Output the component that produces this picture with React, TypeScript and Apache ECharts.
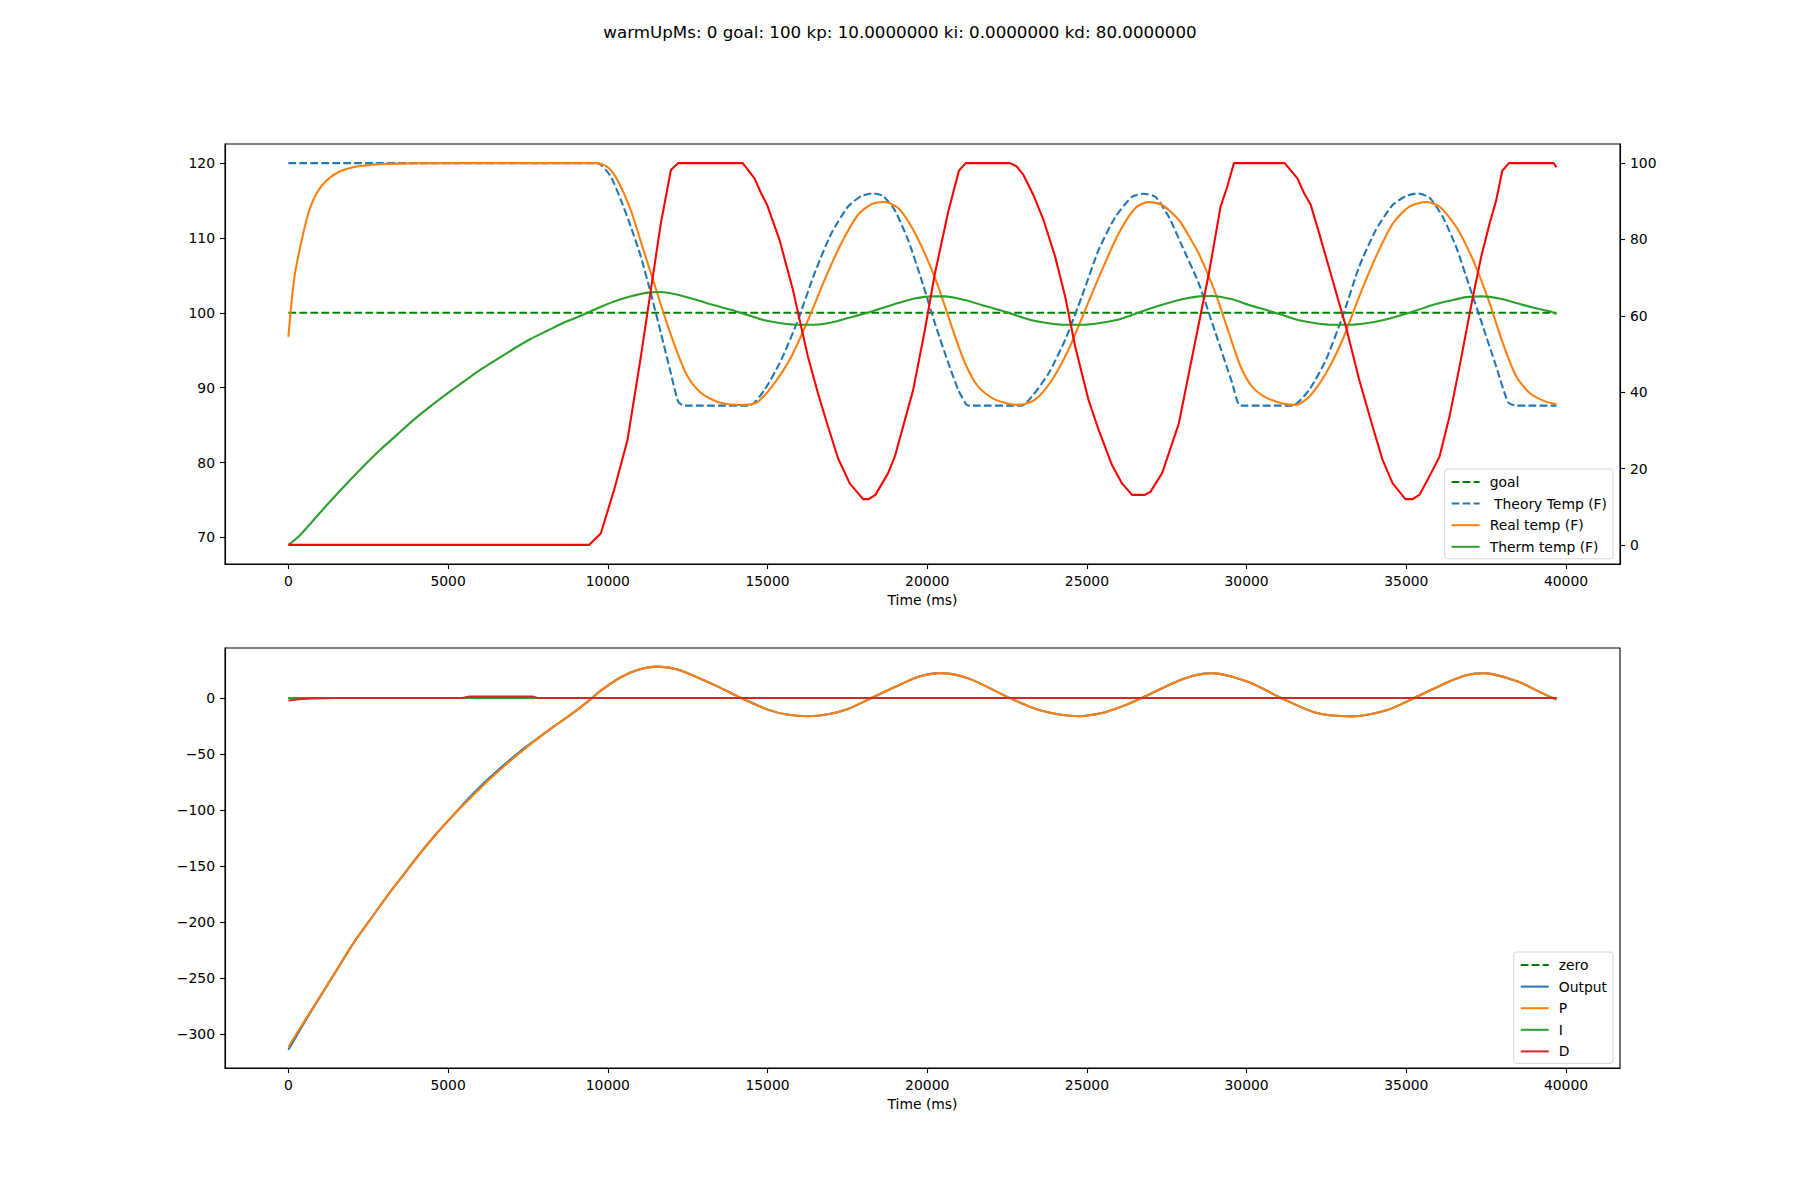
import { useEffect, useRef } from "react";
import * as echarts from "echarts";

const TITLE = "warmUpMs: 0 goal: 100 kp: 10.0000000 ki: 0.0000000 kd: 80.0000000";

const timeTicks = [0, 5000, 10000, 15000, 20000, 25000, 30000, 35000, 40000];
const tempTicks = [70, 80, 90, 100, 110, 120];
const heaterTicks = [0, 20, 40, 60, 80, 100];
const pidTicks = [-300, -250, -200, -150, -100, -50, 0];

// top chart (left axis, deg F)
const goal: [number, number][] = [[0, 100], [39700, 100]];

const theoryTemp: [number, number][] = [
  [0, 120], [9676, 120], [10093, 118.2], [10407, 115.1], [10721, 111.5], [11035, 107.5],
  [11348, 102.6], [11662, 97.3], [11976, 91.9], [12206, 88.1], [12395, 87.6], [14434, 87.6],
  [14905, 89.7], [15428, 93.7], [15951, 99.0], [16474, 105.3], [16998, 110.6], [17521, 114.2],
  [17939, 115.6], [18306, 115.95], [18620, 115.6], [18985, 113.7], [19404, 109.7], [19822, 104.4],
  [20241, 98.6], [20660, 93.3], [20974, 89.7], [21235, 87.7], [21400, 87.6], [22961, 87.6],
  [23275, 88.8], [23798, 91.9], [24320, 96.4], [24843, 102.2], [25367, 108.4], [25889, 112.8],
  [26413, 115.5], [26779, 115.9], [27144, 115.5], [27565, 112.8], [27982, 108.9], [28505, 103.9],
  [29027, 97.3], [29551, 90.6], [29813, 87.6], [31435, 87.6], [31958, 89.7], [32481, 93.7],
  [33004, 99.5], [33527, 106.2], [34049, 111.1], [34573, 114.4], [34990, 115.6], [35357, 115.95],
  [35724, 115.4], [36142, 112.8], [36560, 108.8], [36979, 103.5], [37397, 98.2], [37816, 92.8],
  [38182, 88.1], [38443, 87.6], [39700, 87.6],
];

const realTemp: [number, number][] = [
  [0, 96.8], [104, 101.7], [207, 105.3], [417, 109.7], [625, 113.3], [888, 116.0], [1202, 117.7],
  [1620, 118.9], [2247, 119.6], [3085, 119.9], [5000, 120], [9676, 120], [10040, 119.3],
  [10354, 117.3], [10721, 113.7], [11087, 108.8], [11452, 103.9], [11819, 99.0], [12186, 94.6],
  [12500, 91.5], [12918, 89.3], [13441, 88.1], [14120, 87.7], [14330, 87.7], [14696, 88.1],
  [15219, 90.6], [15742, 94.1], [16266, 99.0], [16787, 104.4], [17311, 109.3], [17835, 113.1],
  [18253, 114.5], [18671, 114.8], [19090, 114.0], [19508, 111.5], [19926, 107.9], [20346, 103.5],
  [20764, 98.2], [21182, 93.3], [21601, 90.1], [22124, 88.4], [22857, 87.7], [23378, 88.4],
  [23901, 91.0], [24425, 95.1], [24947, 100.4], [25471, 105.7], [25994, 110.6], [26517, 114.0],
  [26936, 114.8], [27355, 114.4], [27878, 112.4], [28296, 109.5], [28505, 107.9], [29027, 102.6],
  [29446, 97.3], [29813, 92.8], [30179, 90.1], [30597, 88.7], [31121, 87.9], [31539, 87.7],
  [31958, 88.8], [32481, 91.9], [33004, 96.4], [33527, 102.2], [34049, 107.5], [34573, 111.9],
  [35096, 114.2], [35619, 114.8], [36038, 114.2], [36560, 111.5], [37084, 107.1], [37607, 101.3],
  [38025, 95.9], [38443, 91.5], [38861, 89.3], [39384, 88.1], [39700, 87.8],
];

const thermTemp: [number, number][] = [
  [0, 69.0], [364, 70.3], [782, 72.3], [1306, 74.8], [1830, 77.2], [2351, 79.5], [2875, 81.7],
  [3399, 83.7], [3920, 85.7], [4444, 87.5], [4968, 89.2], [5489, 90.8], [6013, 92.4], [6537, 93.8],
  [7058, 95.2], [7583, 96.5], [8106, 97.6], [8628, 98.7], [9152, 99.6], [9676, 100.6],
  [10197, 101.5], [10721, 102.2], [11245, 102.7], [11662, 102.78], [12080, 102.5], [12708, 101.8],
  [13335, 101.0], [13859, 100.4], [14383, 99.7], [14905, 99.0], [15428, 98.6], [15951, 98.4],
  [16474, 98.4], [16998, 98.7], [17521, 99.3], [18043, 99.9], [18566, 100.6], [19090, 101.3],
  [19612, 101.9], [20136, 102.2], [20554, 102.2], [21182, 101.7], [21705, 101.05], [22229, 100.4],
  [22751, 99.7], [23275, 99.0], [23798, 98.6], [24320, 98.4], [24843, 98.4], [25367, 98.6],
  [25889, 99.0], [26413, 99.7], [26936, 100.5], [27459, 101.2], [27982, 101.8], [28505, 102.2],
  [28923, 102.25], [29551, 101.8], [30075, 101.05], [30597, 100.4], [31121, 99.7], [31644, 99.0],
  [32166, 98.6], [32690, 98.4], [33213, 98.4], [33736, 98.6], [34259, 99.0], [34783, 99.6],
  [35305, 100.3], [35828, 101.05], [36352, 101.6], [36874, 102.1], [37398, 102.2], [37921, 101.9],
  [38443, 101.3], [38966, 100.7], [39490, 100.2], [39700, 99.85],
];

// top chart (right axis, heater %)
const heater: [number, number][] = [
  [0, 0], [9413, 0], [9780, 3.0], [10197, 14.4], [10617, 27.5], [11035, 49.3], [11348, 66.8],
  [11662, 84.3], [11976, 98.2], [12206, 100], [14226, 100], [14592, 96.0], [14801, 92.1],
  [14989, 89.0], [15376, 79.9], [15795, 66.8], [16266, 49.3], [16580, 39.7], [16894, 31.0],
  [17208, 22.7], [17574, 16.1], [17993, 12.0], [18170, 12.0], [18379, 13.1], [18776, 18.8],
  [18985, 23.1], [19561, 40.6], [19927, 56.3], [20241, 71.1], [20660, 87.3], [20993, 98.0],
  [21203, 100], [22595, 100], [22803, 99.1], [23013, 96.9], [23327, 91.6], [23641, 85.1],
  [24006, 75.5], [24320, 65.0], [24634, 51.9], [25053, 37.9], [25367, 30.1], [25785, 20.9],
  [26099, 16.1], [26413, 13.1], [26811, 13.1], [26988, 13.9], [27355, 18.8], [27878, 31.8],
  [28296, 49.3], [28819, 71.1], [29185, 88.6], [29394, 93.8], [29604, 100], [31193, 100],
  [31592, 96.0], [31801, 92.1], [32010, 89.0], [32272, 81.6], [32690, 69.4], [33108, 57.2],
  [33527, 43.2], [33945, 31.0], [34259, 22.2], [34573, 16.1], [34971, 12.0], [35201, 12.0],
  [35410, 13.1], [35776, 18.8], [36038, 23.1], [36352, 33.6], [36666, 46.7], [37084, 65.0],
  [37346, 75.5], [37607, 84.2], [37816, 90.3], [38004, 98.0], [38214, 100], [39615, 100],
  [39700, 98.9],
];

// bottom chart (PID terms)
const zero: [number, number][] = [[0, 0], [39700, 0]];

const pTerm: [number, number][] = [
  [0, -311.5], [468, -290], [992, -266.4], [1516, -242.6], [2037, -218.8], [2561, -197.9],
  [3085, -177.1], [3606, -157.8], [4130, -138.4], [4654, -120.5], [5175, -104.2], [5699, -89.3],
  [6223, -74.5], [6745, -61.1], [7269, -48.5], [7793, -36.5], [8314, -25.4], [8838, -14.9],
  [9362, -3.5], [9779, 6.5], [10407, 18.5], [10930, 25], [11558, 28], [12186, 25.5], [12918, 17],
  [13500, 9.5], [14070, 1.4], [15011, -10.4], [15600, -14.8], [16266, -16.3], [16900, -14.5],
  [17521, -9.8], [18253, 0], [19195, 12.5], [19800, 19.5], [20397, 22.2], [21288, 17.5],
  [22543, 0.5], [23588, -11.5], [24740, -16.3], [25471, -13.5], [26099, -7.5], [26721, 0],
  [27643, 12.5], [28300, 19.5], [28893, 22.2], [30035, 14.5], [31121, -0.5], [32206, -13.5],
  [33293, -16.4], [34378, -11], [35248, 0], [36333, 14.5], [36900, 20.5], [37422, 22.2],
  [38508, 14.5], [39200, 5], [39700, -1.5],
];

const output: [number, number][] = [
  [0, -314], [468, -291.2], [992, -266.8], [1516, -242.7], [2037, -218.8], [2561, -197.9],
  [3085, -177.1], [3606, -157.8], [4130, -138.4], [4654, -120.5], [5175, -104.2], [5699, -88],
  [6223, -73.3], [6745, -59.9], [7269, -47.3], [7793, -36.3], [8314, -25.4], [8838, -14.9],
  [9362, -3.5], [9779, 6.5], [10407, 18.5], [10930, 25], [11558, 28], [12186, 25.5], [12918, 17],
  [13500, 9.5], [14070, 1.4], [15011, -10.4], [15600, -14.8], [16266, -16.3], [16900, -14.5],
  [17521, -9.8], [18253, 0], [19195, 12.5], [19800, 19.5], [20397, 22.2], [21288, 17.5],
  [22543, 0.5], [23588, -11.5], [24740, -16.3], [25471, -13.5], [26099, -7.5], [26721, 0],
  [27643, 12.5], [28300, 19.5], [28893, 22.2], [30035, 14.5], [31121, -0.5], [32206, -13.5],
  [33293, -16.4], [34378, -11], [35248, 0], [36333, 14.5], [36900, 20.5], [37422, 22.2],
  [38508, 14.5], [39200, 5], [39700, -1.5],
];

const iTerm: [number, number][] = [[0, 0], [39700, 0]];

const dTerm: [number, number][] = [
  [0, -2.3], [400, -1], [800, -0.4], [1500, 0], [5450, 0], [5650, 1.2], [7650, 1.2], [7800, 0],
  [39700, 0],
];

const FONT = "DejaVu Sans";
const LW = 2.08;
const DASH = [7.7, 3.3];

const plain = (v: number) => String(v).replace("-", "\u2212");

function line(name: string, data: [number, number][], color: string, xi: number, yi: number, dashed = false, smooth = 0) {
  return {
    type: "line",
    name,
    data,
    xAxisIndex: xi,
    yAxisIndex: yi,
    symbol: "none",
    showSymbol: false,
    smooth,
    lineStyle: { color, width: LW, type: dashed ? DASH : "solid" },
    itemStyle: { color },
    emphasis: { disabled: true },
  };
}

function timeAxis(gridIndex: number) {
  return {
    type: "value",
    gridIndex,
    min: -1985,
    max: 41690,
    name: "Time (ms)",
    nameLocation: "middle",
    nameGap: 29,
    nameTextStyle: { color: "#000", fontSize: 13.9, fontFamily: FONT },
    axisLine: { show: true, onZero: false, lineStyle: { color: "#000", width: 1.1 } },
    axisTick: { show: true, customValues: timeTicks, length: 5, lineStyle: { color: "#000", width: 1.1 } },
    axisLabel: { customValues: timeTicks, color: "#000", fontSize: 13.9, fontFamily: FONT, margin: 10, formatter: plain },
    splitLine: { show: false },
  };
}

function valueAxis(gridIndex: number, min: number, max: number, ticks: number[], position: string) {
  return {
    type: "value",
    gridIndex,
    min,
    max,
    position,
    axisLine: { show: true, onZero: false, lineStyle: { color: "#000", width: 1.1 } },
    axisTick: { show: true, customValues: ticks, length: 5, lineStyle: { color: "#000", width: 1.1 } },
    axisLabel: {
      customValues: ticks,
      color: "#000",
      fontSize: 13.9,
      fontFamily: FONT,
      margin: 10,
      formatter: plain,
    },
    splitLine: { show: false },
  };
}

const legendBase = {
  orient: "vertical",
  right: 187,
  padding: [6, 6, 5, 6],
  itemWidth: 28,
  itemHeight: 14,
  itemGap: 7.6,
  backgroundColor: "rgba(255,255,255,0.8)",
  borderColor: "rgba(204,204,204,0.8)",
  borderWidth: 1,
  borderRadius: 3,
  selectedMode: false,
  itemStyle: { opacity: 0 },
  textStyle: { color: "#000", fontSize: 13.9, fontFamily: FONT, padding: [0, 0, 0, 5] },
};

export default function App() {
  const ref = useRef<HTMLDivElement>(null);

  useEffect(() => {
    if (!ref.current) return;
    document.body.style.margin = "0";
    const chart = echarts.init(ref.current, undefined, { renderer: "svg" });

    const option = {
      animation: false,
      backgroundColor: "#fff",
      title: {
        text: TITLE,
        left: "center",
        top: 18,
        textStyle: { color: "#000", fontSize: 16.7, fontWeight: "normal", fontFamily: FONT },
      },
      grid: [
        { left: 225, top: 144, width: 1395, height: 420, show: true, borderColor: "#000", borderWidth: 1.1, backgroundColor: "transparent" },
        { left: 225, top: 648, width: 1395, height: 420, show: true, borderColor: "#000", borderWidth: 1.1, backgroundColor: "transparent" },
      ],
      xAxis: [timeAxis(0), timeAxis(0), timeAxis(1)].map((a, i) => (i === 1 ? { ...a, show: false } : a)),
      yAxis: [
        valueAxis(0, 66.45, 122.55, tempTicks, "left"),
        valueAxis(0, -5, 105, heaterTicks, "right"),
        valueAxis(1, -330.3, 44.6, pidTicks, "left"),
      ],
      legend: [
        {
          ...legendBase,
          top: 469,
          data: ["goal", " Theory Temp (F)", "Real temp (F)", "Therm temp (F)"],
        },
        {
          ...legendBase,
          top: 952,
          data: ["zero", "Output", "P", "I", "D"],
        },
      ],
      series: [
        line("goal", goal, "#008000", 0, 0, true),
        line(" Theory Temp (F)", theoryTemp, "#1f77b4", 0, 0, true, 0.2),
        line("Real temp (F)", realTemp, "#ff7f0e", 0, 0, false, 0.25),
        line("Therm temp (F)", thermTemp, "#2ca02c", 0, 0, false, 0.3),
        line("heater", heater, "#ff0000", 1, 1),
        line("zero", zero, "#008000", 2, 2, true),
        line("Output", output, "#1f77b4", 2, 2, false, 0.3),
        line("P", pTerm, "#ff7f0e", 2, 2, false, 0.3),
        line("I", iTerm, "#2ca02c", 2, 2),
        line("D", dTerm, "#d62728", 2, 2),
      ],
    };

    chart.setOption(option as any);
    return () => chart.dispose();
  }, []);

  return <div ref={ref} style={{ width: 1800, height: 1200 }} />;
}
